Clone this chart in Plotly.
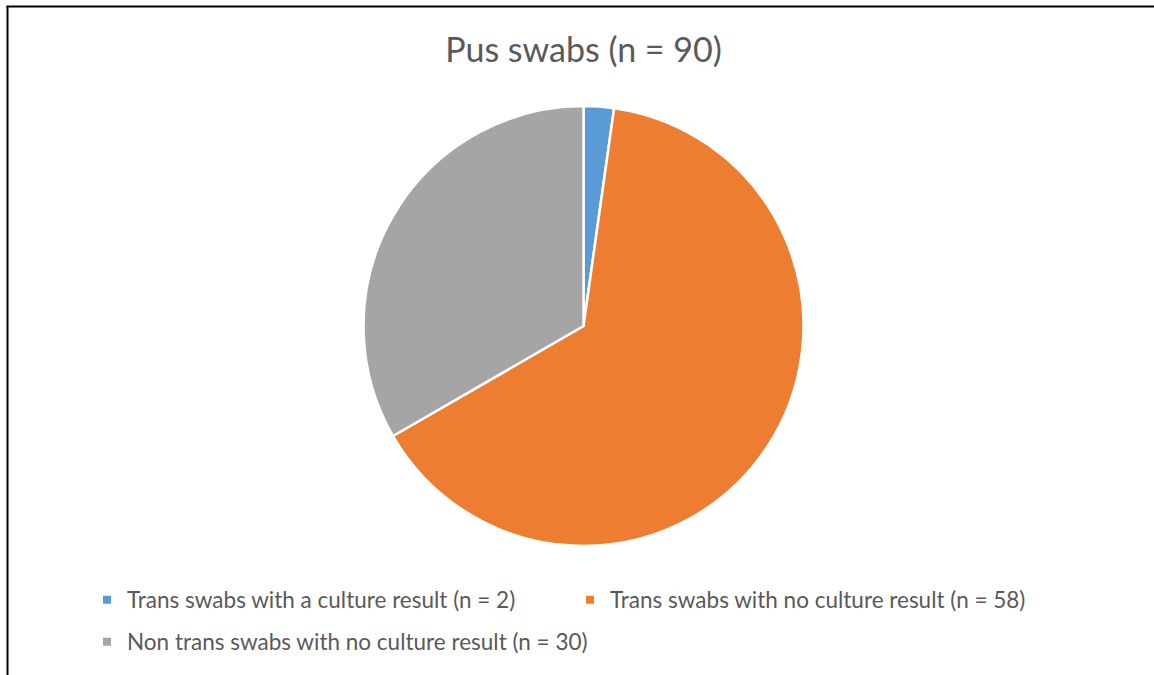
import plotly.graph_objects as go

W, H = 1154, 675

title_text = "Pus swabs (n = 90)"
labels = [
    "Trans swabs with a culture result (n = 2)",
    "Trans swabs with no culture result (n = 58)",
    "Non trans swabs with no culture result (n = 30)",
]
values = [2, 58, 30]
colors = ["#5B9BD5", "#ED7D31", "#A5A5A5"]
legend_ids = ["legend", "legend", "legend2"]

FONT = "Lato, 'Open Sans', sans-serif"
TXT = "#595959"

def px_x(p):
    return p / W

def px_y(p):
    return 1 - p / H

fig = go.Figure()

cx, cy, r = 583.5, 326, 220
fig.add_trace(go.Pie(
    labels=labels,
    values=values,
    marker=dict(colors=colors, line=dict(color="white", width=2.5)),
    sort=False,
    direction="clockwise",
    rotation=0,
    textinfo="none",
    hoverinfo="label+value+percent",
    showlegend=False,
    domain=dict(x=[px_x(cx - r), px_x(cx + r)], y=[px_y(cy + r), px_y(cy - r)]),
))

for lab, col, lg in zip(labels, colors, legend_ids):
    fig.add_trace(go.Scatter(
        x=[None], y=[None], mode="markers", name=lab,
        marker=dict(symbol="square", size=8, color=col),
        legend=lg, showlegend=True, hoverinfo="skip",
    ))

LEG_FONT = 22.5
fig.update_layout(
    width=W, height=H,
    margin=dict(l=0, r=0, t=0, b=0),
    paper_bgcolor="white", plot_bgcolor="white",
    font=dict(family=FONT, color=TXT),
    title=dict(text=title_text, x=px_x(583.5), xanchor="center",
               y=px_y(50), yanchor="middle",
               font=dict(family=FONT, size=34, color=TXT)),
    xaxis=dict(visible=False),
    yaxis=dict(visible=False),
    legend=dict(orientation="h", x=px_x(87), xanchor="left",
                y=px_y(600), yanchor="middle",
                font=dict(family=FONT, size=LEG_FONT, color=TXT),
                entrywidth=438, entrywidthmode="pixels",
                bgcolor="rgba(0,0,0,0)"),
    legend2=dict(orientation="h", x=px_x(87), xanchor="left",
                 y=px_y(642), yanchor="middle",
                 font=dict(family=FONT, size=LEG_FONT, color=TXT),
                 bgcolor="rgba(0,0,0,0)"),
    shapes=[
        dict(type="line", xref="paper", yref="paper",
             x0=px_x(7.5), x1=px_x(7.5), y0=px_y(680), y1=px_y(6),
             line=dict(color="black", width=2), layer="above"),
        dict(type="line", xref="paper", yref="paper",
             x0=px_x(6.5), x1=px_x(1154), y0=px_y(6.5), y1=px_y(6.5),
             line=dict(color="black", width=2), layer="above"),
    ],
)

fig.write_html("out.html",
               config={"displayModeBar": False},
               post_script="document.body.style.margin='0';document.body.style.overflow='hidden';document.documentElement.style.overflow='hidden';")
